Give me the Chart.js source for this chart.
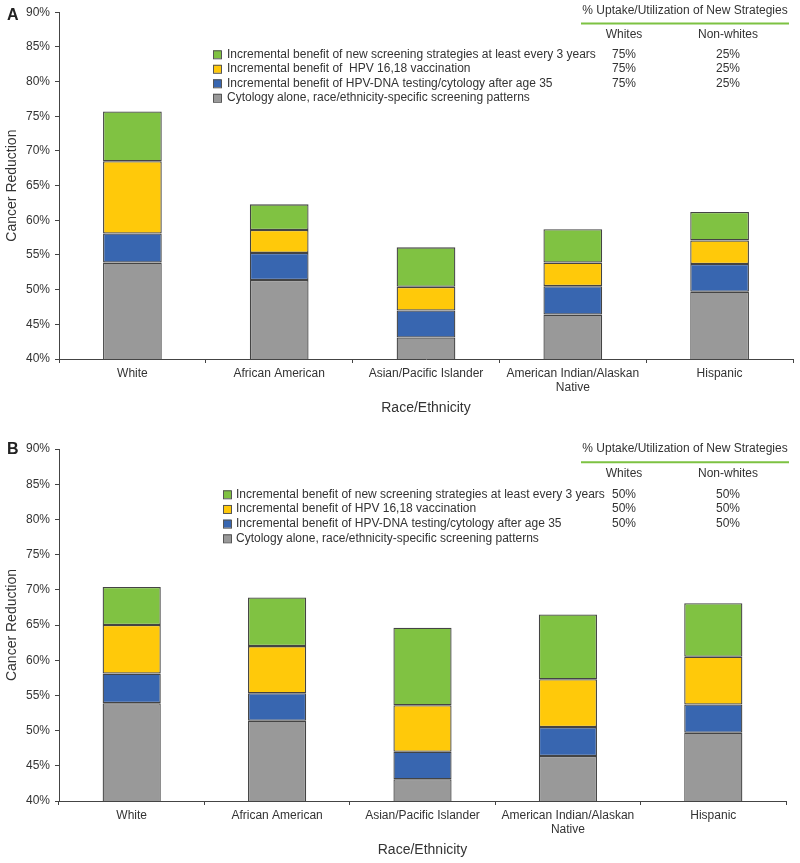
<!DOCTYPE html>
<html>
<head>
<meta charset="utf-8">
<script src="https://cdn.jsdelivr.net/npm/chart.js@4/dist/chart.umd.min.js"></script>
<style>
    html, body { margin: 0; padding: 0; background: #fff; }
    canvas { display: block; }
</style>
</head>
<body>
<canvas id="panelA" width="800" height="430"></canvas>
<canvas id="panelB" width="800" height="433"></canvas>
<script>
// categories on the x axis
const categories = ['White', 'African American', 'Asian/Pacific Islander', ['American Indian/Alaskan', 'Native'], 'Hispanic'];

// legend labels, top to bottom (A keeps the double space of the original)
const legendLabelsA = [
    'Incremental benefit of new screening strategies at least every 3 years',
    'Incremental benefit of  HPV 16,18 vaccination',
    'Incremental benefit of HPV-DNA testing/cytology after age 35',
    'Cytology alone, race/ethnicity-specific screening patterns'
];
const legendLabelsB = [
    'Incremental benefit of new screening strategies at least every 3 years',
    'Incremental benefit of HPV 16,18 vaccination',
    'Incremental benefit of HPV-DNA testing/cytology after age 35',
    'Cytology alone, race/ethnicity-specific screening patterns'
];

// cancer reduction (%), cytology is the absolute level, the rest are increments
const cytologyBase = [53.9, 51.4, 43.1, 46.4, 49.7];

const hpvDnaA = [4.2, 3.9, 3.9, 4.1, 4.0];
const vaccineA = [10.4, 3.3, 3.4, 3.4, 3.4];
const newScreenA = [7.2, 3.7, 5.7, 4.8, 4.1];

const hpvDnaB = [4.2, 3.9, 3.9, 4.1, 4.0];
const vaccineB = [6.9, 6.7, 6.6, 6.8, 6.8];
const newScreenB = [5.4, 6.9, 11.0, 9.2, 7.6];

// uptake table, rows in legend order (green, yellow, blue)
const uptakeWhitesA = [75, 75, 75];
const uptakeNonWhitesA = [25, 25, 25];
const uptakeWhitesB = [50, 50, 50];
const uptakeNonWhitesB = [50, 50, 50];

const yMin = 40;
const yMax = 90;
const yStep = 5;

const FONT = "'Liberation Sans', Arial, Helvetica, sans-serif";
const TEXT = '#333';
const colors = {
    gray: '#999999',
    blue: '#3866b0',
    yellow: '#ffc90a',
    green: '#80c242'
};

Chart.defaults.font.family = FONT;
Chart.defaults.font.size = 12;
Chart.defaults.color = TEXT;

/**
 * Legend, uptake table and panel letter, drawn inside the plot area
 */
const panelNotes = {
    id: 'panelNotes',
    afterDraw(chart, args, opts) {
        const ctx = chart.ctx;
        ctx.save();

        ctx.fillStyle = '#222';
        ctx.font = `bold 16px ${FONT}`;
        ctx.textBaseline = 'middle';
        ctx.textAlign = 'left';
        ctx.fillText(opts.letter, 7, opts.letterY);

        // legend rows (top row = last dataset)
        ctx.font = `12px ${FONT}`;
        const sets = chart.data.datasets.slice().reverse();
        sets.forEach((ds, i) => {
            const y = opts.rowTop + i * opts.rowGap;
            ctx.fillStyle = ds.backgroundColor;
            ctx.fillRect(opts.boxX, y - 4, 8, 8);
            ctx.strokeStyle = '#555';
            ctx.lineWidth = 1;
            ctx.strokeRect(opts.boxX + 0.5, y - 3.5, 8, 8);
            ctx.fillStyle = TEXT;
            ctx.fillText(opts.labels[i], opts.textX, y);
        });

        // uptake table
        ctx.textAlign = 'center';
        ctx.fillText('% Uptake/Utilization of New Strategies', 685, opts.headerY);
        ctx.strokeStyle = '#7dc242';
        ctx.lineWidth = 2;
        ctx.beginPath();
        ctx.moveTo(581, opts.lineY);
        ctx.lineTo(789, opts.lineY);
        ctx.stroke();
        ctx.fillText('Whites', 624, opts.colHeadY);
        ctx.fillText('Non-whites', 728, opts.colHeadY);
        opts.whites.forEach((v, i) => {
            const y = opts.rowTop + i * opts.rowGap;
            ctx.fillText(v + '%', 624, y);
            ctx.fillText(opts.nonWhites[i] + '%', 728, y);
        });

        ctx.restore();
    }
};

function buildDatasets(dna, vaccine, screen) {
    const common = {
        borderColor: '#444',
        borderWidth: 1.3,
        borderSkipped: false,
        barPercentage: 0.4,
        categoryPercentage: 1.0,
        clip: 0
    };
    return [
        { ...common, label: 'Cytology', data: cytologyBase, backgroundColor: colors.gray },
        { ...common, label: 'HPV-DNA', data: dna, backgroundColor: colors.blue },
        { ...common, label: 'Vaccination', data: vaccine, backgroundColor: colors.yellow },
        { ...common, label: 'New screening', data: screen, backgroundColor: colors.green }
    ];
}

function initPanel(canvasId, datasets, padding, notes) {
    const ctx = document.getElementById(canvasId);
    if (!ctx) return;

    new Chart(ctx, {
        type: 'bar',
        data: {
            labels: categories,
            datasets: datasets
        },
        options: {
            responsive: false,
            animation: false,
            layout: { padding: padding },
            plugins: {
                legend: { display: false },
                tooltip: { enabled: false },
                panelNotes: notes
            },
            scales: {
                x: {
                    stacked: true,
                    afterFit: (s) => { s.height = 62; },
                    border: { color: '#444', width: 1 },
                    grid: { drawOnChartArea: false, color: '#444', tickLength: 4 },
                    ticks: { color: TEXT, font: { size: 12 }, padding: 3, maxRotation: 0 },
                    title: { display: true, text: 'Race/Ethnicity', color: TEXT, font: { size: 14 } }
                },
                y: {
                    stacked: true,
                    min: yMin,
                    max: yMax,
                    afterFit: (s) => { s.width = 59; },
                    border: { color: '#444', width: 1 },
                    grid: { drawOnChartArea: false, color: '#444', tickLength: 4 },
                    ticks: {
                        stepSize: yStep,
                        color: TEXT,
                        font: { size: 12 },
                        padding: 5,
                        callback: function(value) {
                            return value + '%';
                        }
                    },
                    title: { display: true, text: 'Cancer Reduction', color: TEXT, font: { size: 14 } }
                }
            }
        },
        plugins: [panelNotes]
    });
}

initPanel('panelA', buildDatasets(hpvDnaA, vaccineA, newScreenA),
    { left: 0, top: 11, right: 7, bottom: 9 },
    {
        letter: 'A', letterY: 16,
        labels: legendLabelsA,
        boxX: 213, textX: 227, rowTop: 54.3, rowGap: 14.5,
        headerY: 11, lineY: 23.5, colHeadY: 34.7,
        whites: uptakeWhitesA, nonWhites: uptakeNonWhitesA
    });

initPanel('panelB', buildDatasets(hpvDnaB, vaccineB, newScreenB),
    { left: 0, top: 19, right: 14, bottom: 0 },
    {
        letter: 'B', letterY: 19.5,
        labels: legendLabelsB,
        boxX: 223, textX: 236, rowTop: 64.3, rowGap: 14.67,
        headerY: 19, lineY: 32.3, colHeadY: 43.3,
        whites: uptakeWhitesB, nonWhites: uptakeNonWhitesB
    });
</script>
</body>
</html>
